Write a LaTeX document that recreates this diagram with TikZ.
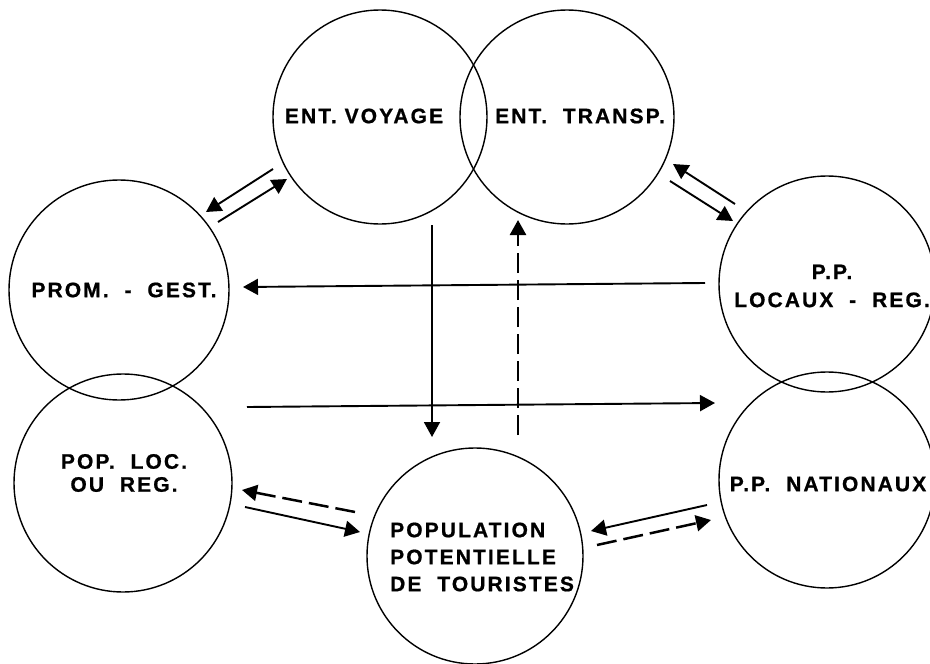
\documentclass[tikz,border=0pt]{standalone}
\usepackage{fontspec}
\setmainfont{Liberation Sans}[LetterSpace=10, BoldFeatures={FakeBold=0.8}]
\usetikzlibrary{arrows.meta}
\tikzset{
  circ/.style={circle, draw, line width=1.4pt, minimum size=#1, inner sep=0pt},
  lbl/.style={font=\bfseries\fontsize{21}{27}\selectfont, inner sep=0pt},
  arr/.style={line width=1.9pt, -{Triangle[length=15pt,width=16pt]}},
  darr/.style={line width=2.5pt, dash pattern=on 20pt off 7pt, -{Triangle[length=15pt,width=16pt]}},
}
\begin{document}
\begin{tikzpicture}[x=1pt,y=-1pt]
\useasboundingbox (0,0) rectangle (930,664);
% circles
\node[circ=214pt] (voy) at (380,117) {};
\node[circ=214pt] (tra) at (567,117) {};
\node[circ=220pt] (prom) at (119,290) {};
\node[circ=218pt] (poploc) at (123,483) {};
\node[circ=216pt] (locaux) at (827,284) {};
\node[circ=216pt] (nat) at (827,480) {};
\node[circ=216pt] (popu) at (475,556) {};
% labels
\node[lbl] (tvoy) at (364,116) {ENT. VOYAGE};
\node[lbl, anchor=west] (ttra) at (495,116) {ENT.\ \ TRANSP.};
\node[lbl] (tprom) at (124,290) {PROM.\ \ -\ \ GEST.};
\node[lbl, align=center, font=\bfseries\fontsize{21}{23}\selectfont] (tpoploc) at (124,473) {POP.\ \ LOC.\\OU\ \ REG.};
\node[lbl, align=center, font=\bfseries\fontsize{21}{28}\selectfont] (tlocaux) at (832,286) {P.P.\\LOCAUX\ \ -\ \ REG.};
\node[lbl] (tnat) at (828,484) {P.P.\ \ NATIONAUX};
\node[lbl, align=left, anchor=west] (tpopu) at (390,557) {POPULATION\\POTENTIELLE\\DE\ \ TOURISTES};
% coordinates
\coordinate (a1s) at (273,169); \coordinate (a1e) at (206,212);
\coordinate (a2s) at (218,222); \coordinate (a2e) at (287,179);
\coordinate (b1s) at (735,204); \coordinate (b1e) at (673,164);
\coordinate (b2s) at (670,181); \coordinate (b2e) at (733,221);
\coordinate (h1s) at (705,283); \coordinate (h1e) at (243,287);
\coordinate (h2s) at (247,407); \coordinate (h2e) at (715,403);
\coordinate (v1s) at (432,225); \coordinate (v1e) at (432,437);
\coordinate (v2s) at (518,435); \coordinate (v2e) at (518,220);
\coordinate (c1s) at (355,512); \coordinate (c1e) at (242,490);
\coordinate (c2s) at (245,507); \coordinate (c2e) at (360,532);
\coordinate (d1s) at (707,505); \coordinate (d1e) at (591,531);
\coordinate (d2s) at (597,545); \coordinate (d2e) at (711,520);
% arrows
\draw[arr] (a1s) -- (a1e);
\draw[arr] (a2s) -- (a2e);
\draw[arr] (b1s) -- (b1e);
\draw[arr] (b2s) -- (b2e);
\draw[arr] (h1s) -- (h1e);
\draw[arr] (h2s) -- (h2e);
\draw[arr] (v1s) -- (v1e);
\draw[darr] (v2s) -- (v2e);
\draw[darr] (c1s) -- (c1e);
\draw[arr] (c2s) -- (c2e);
\draw[arr] (d1s) -- (d1e);
\draw[darr] (d2s) -- (d2e);
\end{tikzpicture}
\end{document}
